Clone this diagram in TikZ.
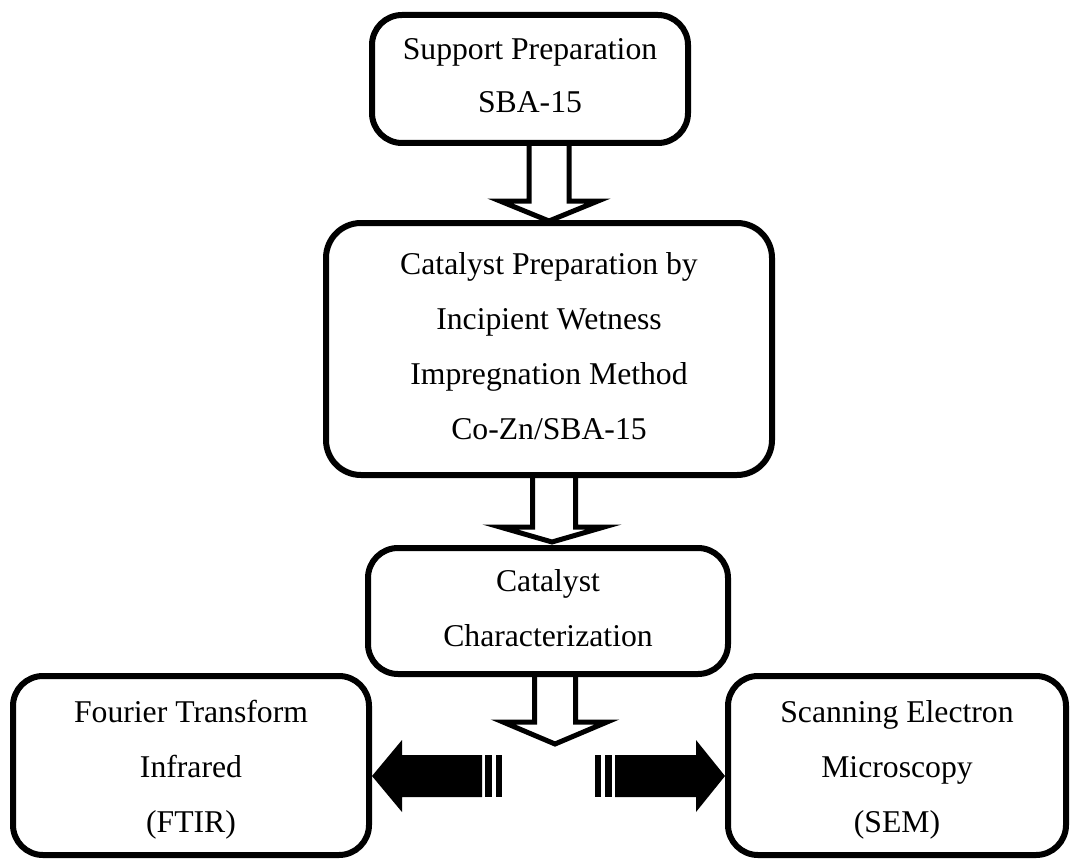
\documentclass[tikz,border=0pt]{standalone}
\usepackage{fontspec}
\setmainfont{Liberation Serif}
\usetikzlibrary{calc}
\begin{document}
\begin{tikzpicture}[x=1pt,y=-1pt,
  box/.style={draw, line width=6pt, rounded corners=30pt, align=center, inner sep=0pt, outer sep=0pt,
    font=\fontsize{31.7}{55}\selectfont},
  hollow/.style={draw, line width=5pt, line join=miter},
  blockarrow/.style={fill=black}]
\useasboundingbox (0,0) rectangle (1070,861);
% boxes
\node[box, minimum width=316, minimum height=128, text depth=6pt, font=\fontsize{31.7}{53}\selectfont] (b1) at (530,79) {Support Preparation\\SBA-15};
\node[box, minimum width=446, minimum height=252, rounded corners=35pt, text depth=7pt] (b2) at (549,349) {Catalyst Preparation by\\Incipient Wetness\\Impregnation Method\\Co-Zn/SBA-15};
\node[box, minimum width=360, minimum height=126, text depth=6pt] (b3) at (548,611) {Catalyst\\Characterization};
\node[box, minimum width=356, minimum height=179, text height=140pt] (ftir) at (191,765.5) {Fourier Transform\\Infrared\\(FTIR)};
\node[box, minimum width=338, minimum height=179, text height=140pt] (sem) at (897,765.5) {Scanning Electron\\Microscopy\\(SEM)};
% hollow down arrows
\draw[hollow] ($(b2.north)+(-20,-80)$) -- ($(b2.north)+(-20,-22)$) -- ($(b2.north)+(-49,-22)$)
  -- ($(b2.north)+(0,-2)$) -- ($(b2.north)+(49,-22)$) -- ($(b2.north)+(20,-22)$) -- ($(b2.north)+(20,-80)$);
\draw[hollow] ($(b3.north)+(-15.5,-73)$) -- ($(b3.north)+(-15.5,-21)$) -- ($(b3.north)+(-48,-21)$)
  -- ($(b3.north)+(4,-6)$) -- ($(b3.north)+(56,-21)$) -- ($(b3.north)+(27.5,-21)$) -- ($(b3.north)+(27.5,-73)$);
\coordinate (a3) at ($(b3.south)+(7,70)$);
\draw[hollow] ($(b3.south)+(-13.5,0)$) -- ($(a3)+(-20.5,-22)$) -- ($(a3)+(-52,-22)$)
  -- (a3) -- ($(a3)+(52,-22)$) -- ($(a3)+(20.5,-22)$) -- ($(b3.south)+(27.5,0)$);
% solid side arrows
\coordinate (lt) at ($(ftir.east)+(3,10.5)$);
\coordinate (rt) at ($(sem.west)+(-3,10.5)$);
\fill[blockarrow, shift={(lt)}] (0,0) -- (30,-36) -- (30,-21) -- (110,-21) -- (110,21) -- (30,21) -- (30,36) -- cycle;
\fill[blockarrow, shift={(lt)}] (113,-21) rectangle (120,21);
\fill[blockarrow, shift={(lt)}] (124,-21) rectangle (130,21);
\fill[blockarrow, shift={(rt)}] (0,0) -- (-29,-36) -- (-29,-21) -- (-110,-21) -- (-110,21) -- (-29,21) -- (-29,36) -- cycle;
\fill[blockarrow, shift={(rt)}] (-113,-21) rectangle (-120,21);
\fill[blockarrow, shift={(rt)}] (-124,-21) rectangle (-130,21);
\end{tikzpicture}
\end{document}
